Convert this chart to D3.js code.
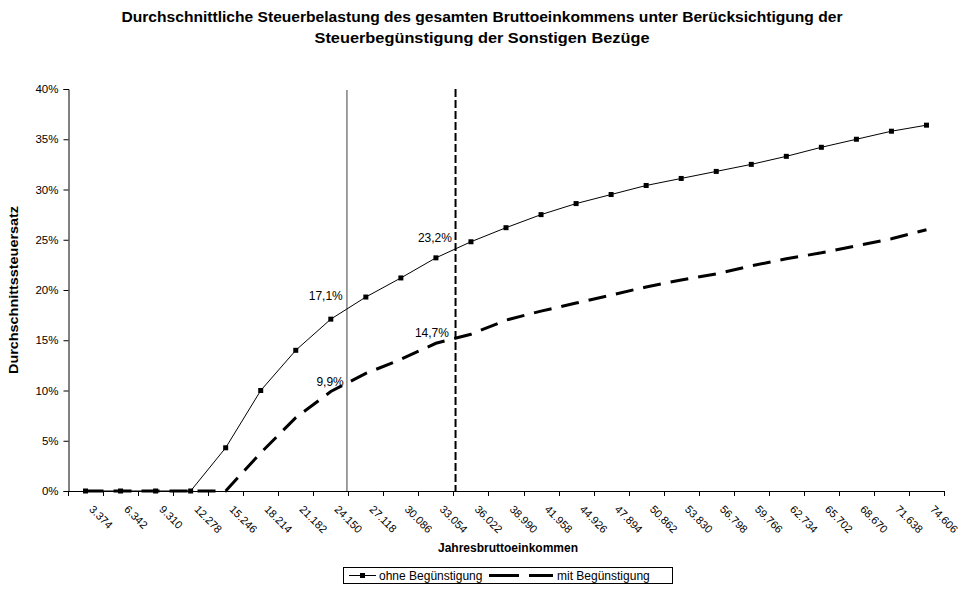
<!DOCTYPE html>
<html>
<head>
<meta charset="utf-8">
<script src="https://cdn.jsdelivr.net/npm/d3@7"></script>
<style>
  html, body { margin: 0; padding: 0; background: #fff; }
  svg { display: block; font-family: "Liberation Sans", Arial, sans-serif; }
</style>
</head>
<body>
<svg id="chart" width="959" height="593"></svg>
<script>
// Jahresbruttoeinkommen (Kategorien der x-Achse)
const categories = ["3.374", "6.342", "9.310", "12.278", "15.246", "18.214", "21.182", "24.150",
  "27.118", "30.086", "33.054", "36.022", "38.990", "41.958", "44.926", "47.894", "50.862",
  "53.830", "56.798", "59.766", "62.734", "65.702", "68.670", "71.638", "74.606"];

// Durchschnittssteuersatz in Prozent
const ohneBeguenstigung = [0, 0, 0, 0, 4.3, 10.0, 14.0, 17.1, 19.3, 21.2, 23.2, 24.8, 26.2, 27.5,
  28.6, 29.5, 30.4, 31.1, 31.8, 32.5, 33.3, 34.2, 35.0, 35.8, 36.4];
const mitBeguenstigung = [0, 0, 0, 0, 0, 3.8, 7.3, 9.9, 11.7, 13.1, 14.7, 15.6, 17.0, 17.9,
  18.7, 19.5, 20.3, 21.0, 21.6, 22.4, 23.1, 23.7, 24.4, 25.1, 26.0];

const yTicks = [0, 5, 10, 15, 20, 25, 30, 35, 40];

// Senkrechte Markierungen (Einkommen)
const markerIncomes = [25515, 34716];

// Beschriftete Punkte: Index in den Kategorien
const labelledIndex = [7, 10];

const svg = d3.select("#chart");
const plotLeft = 68, plotRight = 944, plotTop = 89, plotBottom = 491;

const x = d3.scaleBand().domain(categories).range([plotLeft, plotRight]).paddingInner(0).paddingOuter(0);
const y = d3.scaleLinear().domain([0, 40]).range([plotBottom, plotTop]);
const firstInc = 3374, stepInc = 2968;
const xInc = d3.scaleLinear()
  .domain([firstInc - stepInc / 2, firstInc + stepInc * (categories.length - 0.5)])
  .range([plotLeft, plotRight]);
const cx = i => x(categories[i]) + x.bandwidth() / 2;
const fmt = v => d3.format(".1f")(v).replace(".", ",") + "%";

// Titel
const titleLines = [
  { text: "Durchschnittliche Steuerbelastung des gesamten Bruttoeinkommens unter Berücksichtigung der", y: 22, len: 721 },
  { text: "Steuerbegünstigung der Sonstigen Bezüge", y: 43, len: 335 }
];
svg.selectAll("text.title").data(titleLines).join("text").attr("class", "title")
  .attr("x", 482).attr("y", d => d.y).attr("text-anchor", "middle")
  .attr("font-weight", "bold").attr("font-size", 15)
  .attr("textLength", d => d.len).attr("lengthAdjust", "spacingAndGlyphs")
  .text(d => d.text);

// y-Achse
const yAxis = d3.axisLeft(y).tickValues(yTicks).tickSize(5).tickPadding(5).tickFormat(d => d + "%");
svg.append("g").attr("transform", `translate(${plotLeft + 0.5},0)`).call(yAxis)
  .call(g => g.select(".domain").attr("stroke", "#000"))
  .call(g => g.selectAll(".tick line").attr("stroke", "#000"))
  .call(g => g.selectAll(".tick text").attr("font-size", 11.5).attr("fill", "#000")
    .attr("font-family", "'Liberation Sans', Arial, sans-serif"));

// x-Achse: Linie, Teilstriche an Kategoriegrenzen, gedrehte Beschriftungen
const xg = svg.append("g");
xg.append("line").attr("x1", plotLeft).attr("x2", plotRight + 0.5)
  .attr("y1", plotBottom + 0.5).attr("y2", plotBottom + 0.5).attr("stroke", "#000");
xg.selectAll("line.tick").data(d3.range(categories.length + 1)).join("line")
  .attr("class", "tick")
  .attr("x1", i => Math.round(plotLeft + i * x.step()) + 0.5)
  .attr("x2", i => Math.round(plotLeft + i * x.step()) + 0.5)
  .attr("y1", plotBottom).attr("y2", plotBottom + 5).attr("stroke", "#000");
xg.selectAll("text").data(categories).join("text")
  .attr("transform", (d, i) => `translate(${cx(i) + 3},${plotBottom + 19}) rotate(45)`)
  .attr("font-size", 11).text(d => d);

// Achsentitel
svg.append("text").attr("x", 508).attr("y", 552).attr("text-anchor", "middle")
  .attr("font-weight", "bold").attr("font-size", 12).text("Jahresbruttoeinkommen");
svg.append("text").attr("transform", `translate(18,290) rotate(-90)`).attr("text-anchor", "middle")
  .attr("font-weight", "bold").attr("font-size", 13)
  .attr("textLength", 168).attr("lengthAdjust", "spacingAndGlyphs")
  .text("Durchschnittssteuersatz");

// Senkrechte Markierungen
svg.append("line").attr("x1", xInc(markerIncomes[0])).attr("x2", xInc(markerIncomes[0]))
  .attr("y1", plotTop + 1).attr("y2", plotBottom).attr("stroke", "#7f7f7f").attr("stroke-width", 1.5);
svg.append("line").attr("x1", xInc(markerIncomes[1])).attr("x2", xInc(markerIncomes[1]))
  .attr("y1", plotTop).attr("y2", plotBottom).attr("stroke", "#000").attr("stroke-width", 2)
  .attr("stroke-dasharray", "8,3");

// Linien
const line = d3.line().x((d, i) => cx(i)).y(d => y(d));
svg.append("path").datum(mitBeguenstigung).attr("d", line).attr("fill", "none")
  .attr("stroke", "#000").attr("stroke-width", 3).attr("stroke-dasharray", "18,10");
svg.append("path").datum(ohneBeguenstigung).attr("d", line).attr("fill", "none")
  .attr("stroke", "#000").attr("stroke-width", 1);
svg.selectAll("rect.mk").data(ohneBeguenstigung).join("rect").attr("class", "mk")
  .attr("x", (d, i) => cx(i) - 2.5).attr("y", d => y(d) - 2.5)
  .attr("width", 5).attr("height", 5).attr("fill", "#000");

// Datenbeschriftungen (Versatz zum Punkt)
const labelOffsets = {
  ohne: [[12, -19], [16, -16]],
  mit: [[13, -6], [13, -6]]
};
labelledIndex.forEach((idx, k) => {
  svg.append("text").attr("x", cx(idx) + labelOffsets.ohne[k][0])
    .attr("y", y(ohneBeguenstigung[idx]) + labelOffsets.ohne[k][1])
    .attr("text-anchor", "end").attr("font-size", 12).text(fmt(ohneBeguenstigung[idx]));
  svg.append("text").attr("x", cx(idx) + labelOffsets.mit[k][0])
    .attr("y", y(mitBeguenstigung[idx]) + labelOffsets.mit[k][1])
    .attr("text-anchor", "end").attr("font-size", 12).text(fmt(mitBeguenstigung[idx]));
});

// Legende
const lg = svg.append("g").attr("transform", "translate(343,567)");
lg.append("rect").attr("x", 0.5).attr("y", 0.5).attr("width", 329).attr("height", 16)
  .attr("fill", "#fff").attr("stroke", "#000");
lg.append("line").attr("x1", 6).attr("x2", 33).attr("y1", 8.5).attr("y2", 8.5).attr("stroke", "#000");
lg.append("rect").attr("x", 17).attr("y", 6).attr("width", 5).attr("height", 5).attr("fill", "#000");
lg.append("text").attr("x", 36).attr("y", 13).attr("font-size", 12).text("ohne Begünstigung");
lg.append("path").attr("d", "M146,8.5H210").attr("stroke", "#000").attr("stroke-width", 3)
  .attr("stroke-dasharray", "30,10");
lg.append("text").attr("x", 214).attr("y", 13).attr("font-size", 12).text("mit Begünstigung");
</script>
</body>
</html>
